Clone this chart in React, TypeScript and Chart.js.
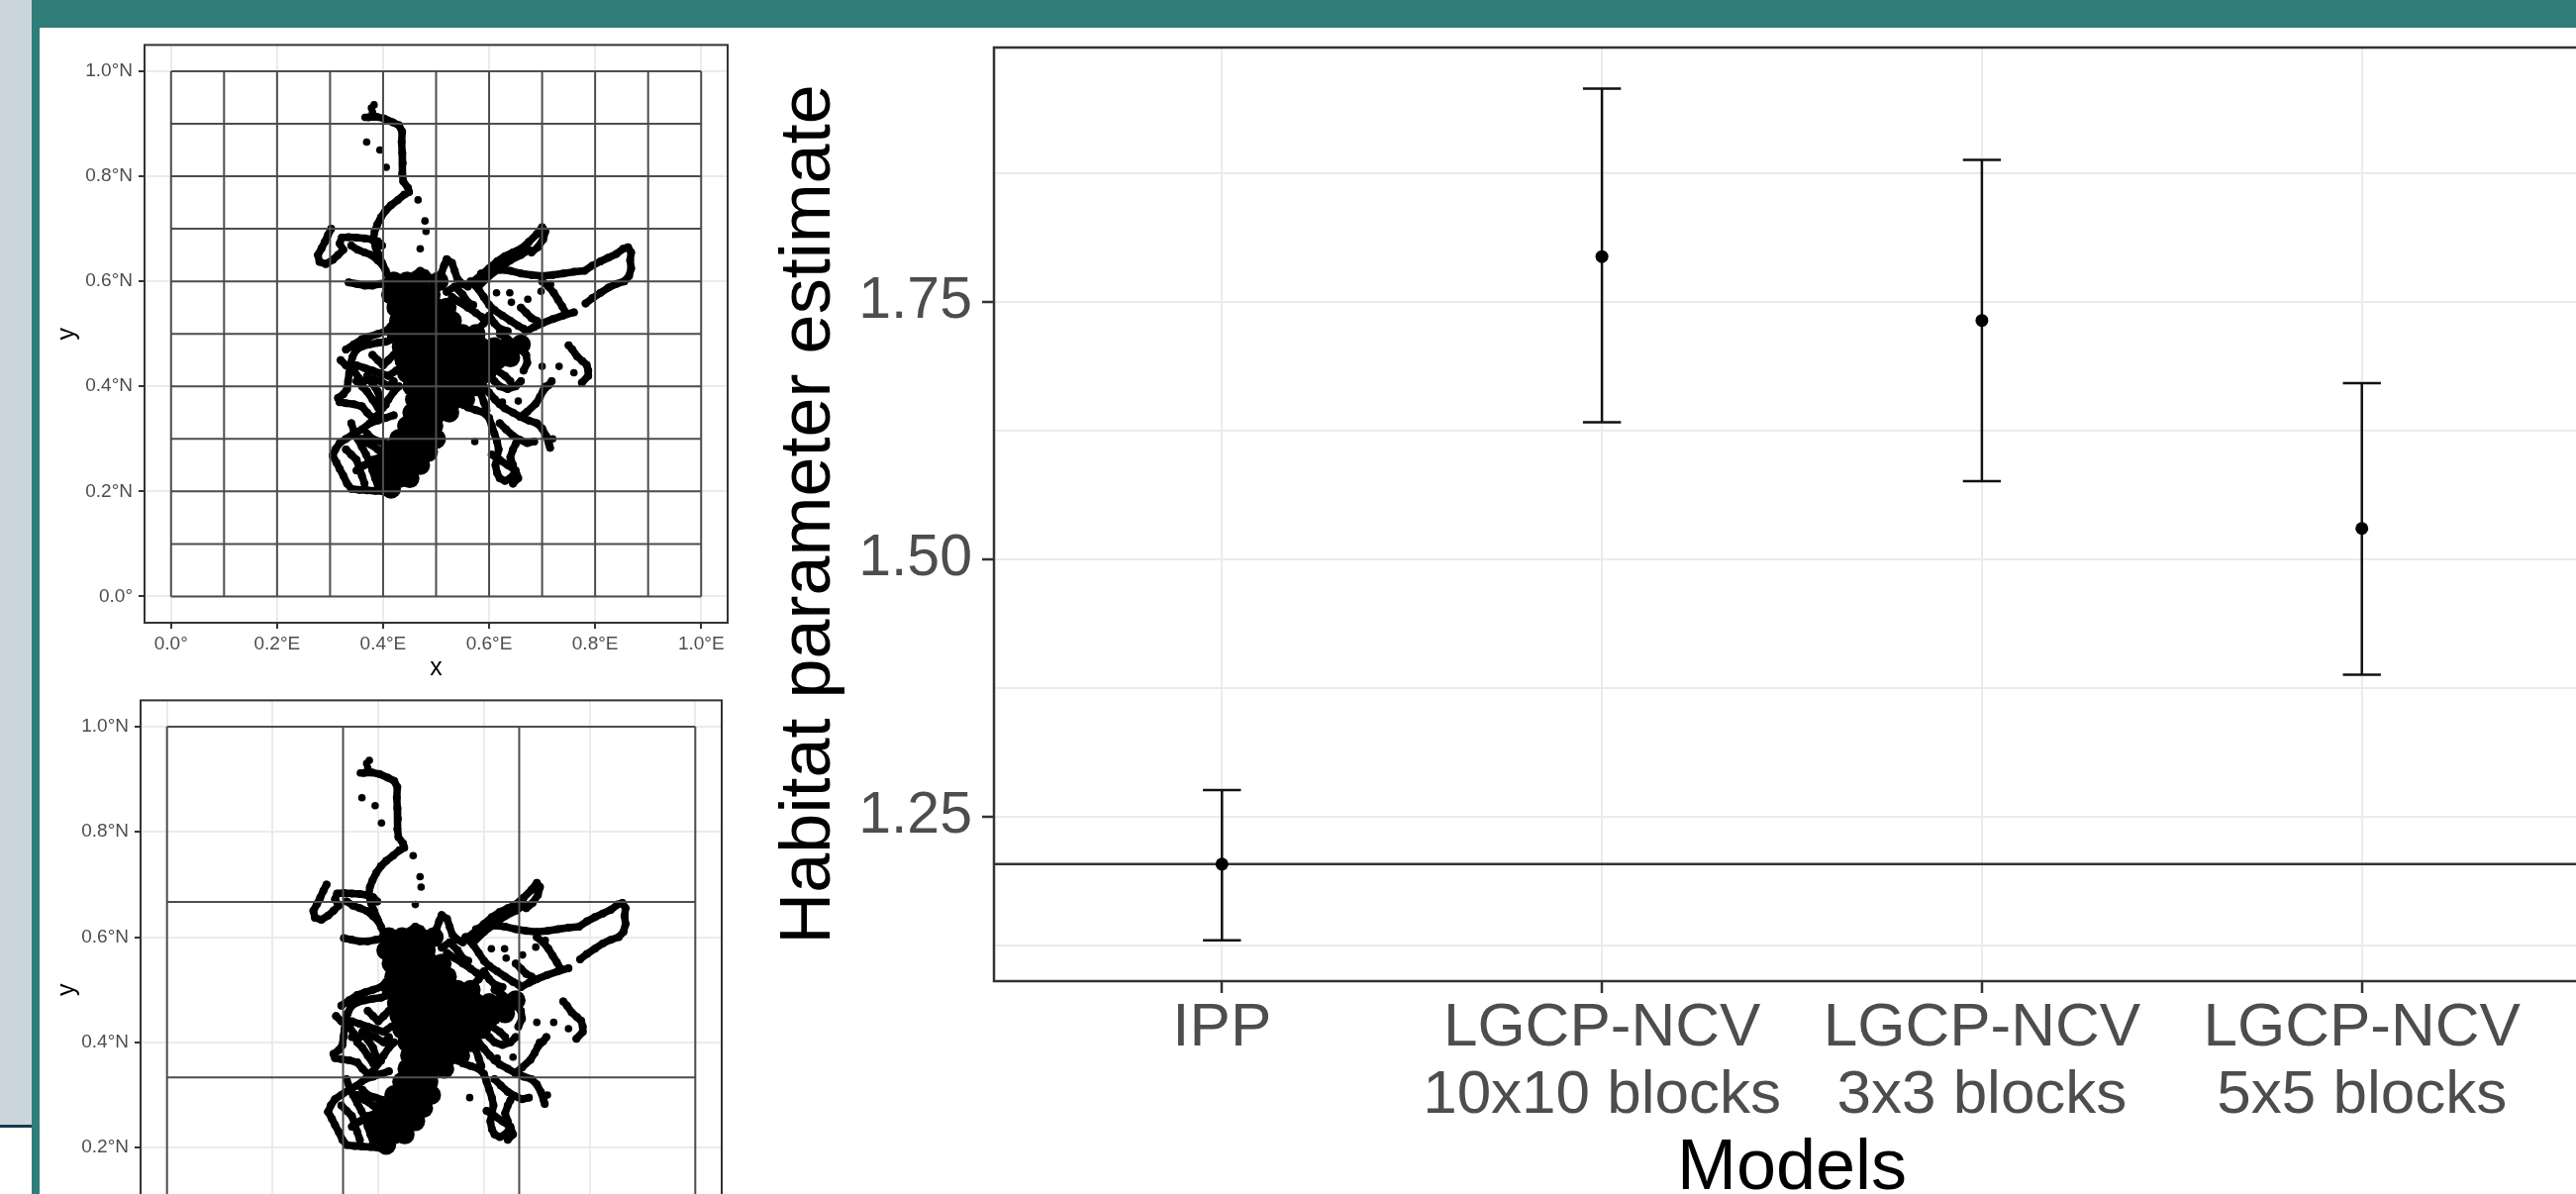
import React, { useEffect, useRef } from "react";
import { Chart, registerables } from "chart.js";

Chart.register(...registerables);

const FONT = "'Liberation Sans', Arial, Helvetica, sans-serif";

// ---------------- Right chart data ----------------
const modelLabels: string[][] = [
  ["IPP"],
  ["LGCP-NCV", "10x10 blocks"],
  ["LGCP-NCV", "3x3 blocks"],
  ["LGCP-NCV", "5x5 blocks"],
];
const estimates = [1.204, 1.794, 1.732, 1.53];
const lowerCI = [1.13, 1.633, 1.576, 1.388];
const upperCI = [1.276, 1.957, 1.888, 1.671];
const referenceValue = 1.204;
const yAxisRange = [1.0904, 1.997];
const yGridValues = [1.125, 1.25, 1.375, 1.5, 1.625, 1.75, 1.875];
const yLabelledValues = [1.25, 1.5, 1.75];
const xAxisRange = [-0.6, 3.6];

// ---------------- Map data ----------------
const mapBreaks = [0, 0.2, 0.4, 0.6, 0.8, 1.0];
const lonLabels = ["0.0°", "0.2°E", "0.4°E", "0.6°E", "0.8°E", "1.0°E"];
const latLabels = ["0.0°", "0.2°N", "0.4°N", "0.6°N", "0.8°N", "1.0°N"];
const mapRange = [-0.05, 1.05];
const blockEdges10 = [0, 0.1, 0.2, 0.3, 0.4, 0.5, 0.6, 0.7, 0.8, 0.9, 1.0];
const blockEdges3 = [0, 0.3333, 0.6667, 1.0];

// traced movement track (x, y)
const trackPaths: number[][][] = [
  [[0.372,0.912],[0.388,0.913],[0.402,0.910],[0.418,0.903],[0.430,0.897],[0.436,0.885],[0.435,0.865],[0.436,0.845],[0.437,0.825],[0.436,0.805],[0.438,0.790],[0.447,0.778],[0.449,0.770],[0.440,0.765],[0.428,0.755],[0.415,0.745],[0.405,0.735],[0.396,0.722],[0.389,0.708],[0.384,0.695],[0.382,0.680],[0.386,0.665],[0.392,0.650],[0.398,0.635],[0.405,0.620],[0.412,0.605]],
  [[0.302,0.700],[0.296,0.688],[0.290,0.675],[0.284,0.663],[0.277,0.650],[0.280,0.637],[0.292,0.633],[0.305,0.641],[0.315,0.650],[0.325,0.660],[0.318,0.672],[0.322,0.683],[0.335,0.684],[0.350,0.683],[0.365,0.682],[0.378,0.680],[0.390,0.676],[0.398,0.668]],
  [[0.335,0.598],[0.350,0.595],[0.365,0.592],[0.380,0.592],[0.395,0.595],[0.410,0.598]],
  [[0.340,0.668],[0.352,0.660],[0.365,0.655],[0.378,0.650],[0.390,0.640],[0.400,0.630]],
  [[0.570,0.600],[0.585,0.612],[0.600,0.625],[0.615,0.638],[0.630,0.648],[0.645,0.655],[0.660,0.662],[0.675,0.675],[0.690,0.690],[0.700,0.703],[0.706,0.695],[0.702,0.680],[0.692,0.665],[0.680,0.655]],
  [[0.580,0.590],[0.600,0.610],[0.620,0.625],[0.640,0.640],[0.660,0.650],[0.675,0.660]],
  [[0.585,0.615],[0.600,0.620],[0.620,0.622],[0.640,0.620],[0.660,0.615],[0.680,0.612],[0.700,0.610],[0.720,0.612],[0.740,0.615],[0.760,0.618],[0.780,0.620],[0.795,0.630],[0.810,0.638],[0.825,0.645],[0.840,0.652],[0.853,0.662],[0.862,0.665],[0.868,0.655],[0.866,0.640],[0.868,0.625],[0.864,0.610],[0.855,0.600],[0.840,0.595],[0.825,0.588],[0.810,0.578],[0.795,0.568],[0.782,0.558]],
  [[0.760,0.541],[0.740,0.535],[0.720,0.528],[0.700,0.520],[0.685,0.513],[0.670,0.505]],
  [[0.700,0.600],[0.712,0.590],[0.722,0.578],[0.730,0.565],[0.738,0.552],[0.745,0.540]],
  [[0.750,0.478],[0.757,0.470],[0.766,0.457],[0.776,0.448],[0.784,0.441],[0.787,0.430],[0.787,0.420],[0.775,0.407]],
  [[0.530,0.570],[0.545,0.560],[0.560,0.550],[0.575,0.540],[0.586,0.532],[0.600,0.528]],
  [[0.610,0.545],[0.625,0.535],[0.640,0.525],[0.655,0.515],[0.665,0.510]],
  [[0.565,0.600],[0.580,0.585],[0.590,0.570],[0.600,0.555],[0.610,0.545]],
  [[0.620,0.500],[0.635,0.490],[0.650,0.480],[0.660,0.470],[0.670,0.460],[0.672,0.445],[0.665,0.430]],
  [[0.600,0.440],[0.615,0.430],[0.630,0.420],[0.640,0.410]],
  [[0.450,0.600],[0.460,0.612],[0.470,0.620],[0.480,0.615],[0.490,0.605]],
  [[0.505,0.600],[0.510,0.615],[0.515,0.630],[0.520,0.642],[0.530,0.635],[0.535,0.620],[0.540,0.605],[0.550,0.595],[0.560,0.590]],
  [[0.420,0.490],[0.405,0.485],[0.390,0.483],[0.375,0.480],[0.360,0.476],[0.348,0.468],[0.342,0.455],[0.338,0.440],[0.336,0.425],[0.334,0.410],[0.332,0.395],[0.325,0.385],[0.315,0.378],[0.318,0.370],[0.330,0.368],[0.345,0.366],[0.360,0.362]],
  [[0.360,0.362],[0.370,0.350],[0.380,0.340],[0.390,0.345],[0.400,0.360],[0.410,0.375],[0.420,0.390],[0.430,0.400]],
  [[0.350,0.440],[0.365,0.435],[0.380,0.430],[0.395,0.425],[0.410,0.420],[0.425,0.430],[0.440,0.440]],
  [[0.370,0.420],[0.380,0.405],[0.390,0.390],[0.395,0.375],[0.405,0.365]],
  [[0.330,0.470],[0.345,0.480],[0.360,0.490],[0.375,0.495],[0.390,0.500],[0.405,0.505],[0.415,0.515]],
  [[0.320,0.450],[0.330,0.440],[0.345,0.430],[0.355,0.415],[0.360,0.400],[0.370,0.390],[0.380,0.375],[0.390,0.360]],
  [[0.350,0.410],[0.365,0.410],[0.380,0.415],[0.395,0.410],[0.410,0.400],[0.420,0.410]],
  [[0.380,0.460],[0.390,0.450],[0.400,0.440],[0.410,0.450],[0.420,0.460],[0.430,0.470]],
  [[0.305,0.268],[0.312,0.255],[0.318,0.243],[0.325,0.230],[0.332,0.215],[0.340,0.205],[0.355,0.203],[0.370,0.202],[0.385,0.201],[0.400,0.200],[0.415,0.203],[0.425,0.210]],
  [[0.305,0.268],[0.310,0.280],[0.318,0.292],[0.330,0.300],[0.345,0.310],[0.360,0.318],[0.375,0.330],[0.390,0.335],[0.405,0.340],[0.420,0.345]],
  [[0.340,0.330],[0.345,0.315],[0.352,0.300],[0.360,0.285],[0.368,0.270],[0.375,0.255],[0.380,0.240],[0.385,0.225],[0.390,0.212]],
  [[0.360,0.300],[0.375,0.290],[0.390,0.280],[0.400,0.270],[0.410,0.260]],
  [[0.330,0.280],[0.340,0.270],[0.350,0.260],[0.355,0.245],[0.360,0.230],[0.365,0.215]],
  [[0.350,0.240],[0.365,0.250],[0.380,0.260],[0.395,0.265],[0.410,0.270]],
  [[0.370,0.310],[0.380,0.300],[0.395,0.295],[0.410,0.290],[0.420,0.280]],
  [[0.390,0.235],[0.400,0.225],[0.410,0.215],[0.420,0.220],[0.430,0.230]],
  [[0.430,0.260],[0.440,0.245],[0.448,0.235],[0.455,0.245],[0.465,0.250],[0.470,0.265]],
  [[0.520,0.580],[0.535,0.590],[0.550,0.575],[0.560,0.560],[0.570,0.555]],
  [[0.580,0.510],[0.590,0.520],[0.600,0.535],[0.610,0.520],[0.620,0.510],[0.635,0.505]],
  [[0.660,0.550],[0.670,0.540],[0.680,0.530],[0.690,0.525]],
  [[0.570,0.410],[0.580,0.400],[0.585,0.385],[0.590,0.370],[0.595,0.355]],
  [[0.600,0.420],[0.610,0.410],[0.620,0.400],[0.635,0.395],[0.650,0.400],[0.660,0.410]],
  [[0.560,0.360],[0.575,0.355],[0.590,0.350],[0.600,0.340],[0.605,0.325],[0.610,0.310],[0.615,0.295],[0.618,0.280],[0.615,0.265],[0.612,0.250],[0.615,0.235],[0.620,0.225],[0.630,0.220],[0.640,0.225],[0.648,0.235],[0.645,0.250],[0.640,0.265],[0.645,0.280],[0.650,0.290]],
  [[0.605,0.270],[0.620,0.260],[0.635,0.250],[0.650,0.240],[0.655,0.225],[0.645,0.215]],
  [[0.590,0.400],[0.600,0.388],[0.611,0.375],[0.620,0.366],[0.630,0.358],[0.645,0.350],[0.659,0.342],[0.672,0.352],[0.688,0.367],[0.696,0.380],[0.702,0.392],[0.712,0.402],[0.718,0.410]],
  [[0.659,0.342],[0.675,0.335],[0.690,0.330],[0.700,0.320],[0.708,0.305],[0.713,0.290],[0.715,0.283]],
  [[0.620,0.330],[0.632,0.318],[0.645,0.306],[0.658,0.298],[0.672,0.292],[0.685,0.295]],
];

// dense core of fixes (x, y)
const coreFixes: number[][] = [
  [0.420,0.600],[0.445,0.600],[0.470,0.600],[0.505,0.600],
  [0.415,0.575],[0.440,0.575],[0.465,0.575],[0.490,0.575],
  [0.425,0.550],[0.450,0.550],[0.475,0.550],[0.500,0.550],[0.520,0.550],
  [0.430,0.525],[0.455,0.525],[0.480,0.525],[0.505,0.525],[0.530,0.525],
  [0.425,0.500],[0.450,0.500],[0.475,0.500],[0.500,0.500],[0.525,0.500],[0.550,0.500],[0.575,0.500],
  [0.435,0.475],[0.460,0.475],[0.485,0.475],[0.510,0.475],[0.535,0.475],[0.560,0.475],[0.585,0.475],[0.610,0.475],[0.635,0.475],[0.660,0.480],
  [0.440,0.450],[0.465,0.450],[0.490,0.450],[0.515,0.450],[0.540,0.450],[0.565,0.450],[0.590,0.450],[0.615,0.450],[0.640,0.455],
  [0.445,0.425],[0.470,0.425],[0.495,0.425],[0.520,0.425],[0.545,0.425],[0.570,0.425],[0.595,0.425],
  [0.455,0.400],[0.480,0.400],[0.505,0.400],[0.530,0.400],[0.555,0.400],[0.575,0.400],
  [0.460,0.375],[0.485,0.375],[0.510,0.375],[0.535,0.375],[0.555,0.375],
  [0.455,0.350],[0.480,0.350],[0.505,0.350],[0.525,0.350],
  [0.445,0.325],[0.470,0.325],[0.495,0.325],
  [0.430,0.300],[0.455,0.300],[0.480,0.300],[0.500,0.300],
  [0.410,0.275],[0.435,0.275],[0.460,0.275],[0.485,0.275],
  [0.400,0.250],[0.425,0.250],[0.450,0.250],[0.470,0.250],
  [0.405,0.225],[0.430,0.225],[0.450,0.225],
  [0.415,0.205],
];

// isolated fixes (x, y)
const looseFixes: number[][] = [
  [0.378,0.930],[0.383,0.936],[0.380,0.922],[0.366,0.912],
  [0.369,0.865],[0.394,0.850],[0.406,0.817],[0.466,0.755],[0.479,0.715],[0.481,0.695],[0.470,0.662],
  [0.614,0.578],[0.639,0.578],[0.642,0.560],[0.673,0.566],[0.698,0.581],[0.716,0.594],
  [0.700,0.438],[0.732,0.438],[0.760,0.426],
  [0.625,0.370],[0.655,0.372],[0.705,0.400],[0.720,0.300],[0.573,0.295],
];

// ---------------- helpers ----------------
const framePlugin = {
  id: "panelFrame",
  afterDraw(chart: any, _args: any, opts: any) {
    const { ctx, chartArea: a } = chart;
    ctx.save();
    ctx.strokeStyle = opts.color || "#333";
    ctx.lineWidth = opts.width || 2;
    ctx.strokeRect(a.left, a.top, a.right - a.left, a.bottom - a.top);
    ctx.restore();
  },
};

function pathsToLine(paths: number[][][]) {
  const out: any[] = [];
  paths.forEach((p) => {
    p.forEach(([x, y]) => out.push({ x, y }));
    out.push({ x: p[p.length - 1][0], y: null });
  });
  return out;
}

function blockLines(edges: number[]) {
  const lo = edges[0];
  const hi = edges[edges.length - 1];
  const segs: number[][][] = [];
  edges.forEach((e) => {
    segs.push([[e, lo], [e, hi]]);
    segs.push([[lo, e], [hi, e]]);
  });
  return pathsToLine(segs);
}

const TICK_GREY = "#4D4D4D";
const GRID = "#EBEBEB";

interface MapProps {
  left: number; top: number; width: number; height: number;
  padTop: number; padRight: number; yAxisWidth: number; xAxisHeight: number;
  edges: number[];
}

function MapPanel(p: MapProps) {
  const ref = useRef<HTMLCanvasElement>(null);
  useEffect(() => {
    const chart = new Chart(ref.current as HTMLCanvasElement, {
      type: "scatter",
      data: {
        datasets: [
          {
            type: "line",
            data: blockLines(p.edges),
            borderColor: "#4d4d4d",
            borderWidth: 2,
            pointRadius: 0,
            spanGaps: false,
            order: 0,
          } as any,
          {
            type: "line",
            data: pathsToLine(trackPaths),
            borderColor: "#000",
            borderWidth: 7.5,
            borderCapStyle: "round",
            borderJoinStyle: "round",
            pointRadius: 4,
            pointBackgroundColor: "#000",
            pointBorderWidth: 0,
            spanGaps: false,
            order: 1,
          } as any,
          {
            data: coreFixes.map(([x, y]) => ({ x, y })),
            pointRadius: 10,
            pointBackgroundColor: "#000",
            pointBorderWidth: 0,
            order: 2,
          },
          {
            data: looseFixes.map(([x, y]) => ({ x, y })),
            pointRadius: 3.8,
            pointBackgroundColor: "#000",
            pointBorderWidth: 0,
            order: 3,
          },
        ],
      },
      plugins: [framePlugin as any],
      options: {
        animation: false,
        responsive: false,
        maintainAspectRatio: false,
        devicePixelRatio: 1,
        events: [],
        layout: { padding: { top: p.padTop, right: p.padRight, left: 0, bottom: 0 }, autoPadding: false } as any,
        plugins: {
          legend: { display: false },
          tooltip: { enabled: false },
          panelFrame: { color: "#333", width: 2 },
        } as any,
        scales: {
          x: {
            type: "linear",
            min: mapRange[0],
            max: mapRange[1],
            afterBuildTicks: (s: any) => { s.ticks = mapBreaks.map((v) => ({ value: v })); },
            afterFit: (s: any) => { s.height = p.xAxisHeight; },
            ticks: {
              callback: (_v: any, i: number) => lonLabels[i],
              color: TICK_GREY,
              font: { family: FONT, size: 19 },
              padding: 4,
              autoSkip: false,
              maxRotation: 0,
            },
            grid: { color: GRID, lineWidth: 2, tickColor: "#333", tickLength: 6, tickWidth: 2 },
            border: { display: false },
            title: { display: true, text: "x", color: "#000", font: { family: FONT, size: 25 }, padding: { top: 0, bottom: 10 } },
          },
          y: {
            type: "linear",
            min: mapRange[0],
            max: mapRange[1],
            afterBuildTicks: (s: any) => { s.ticks = mapBreaks.map((v) => ({ value: v })); },
            afterFit: (s: any) => { s.width = p.yAxisWidth; },
            ticks: {
              callback: (_v: any, i: number) => latLabels[i],
              color: TICK_GREY,
              font: { family: FONT, size: 19 },
              padding: 6,
              autoSkip: false,
            },
            grid: { color: GRID, lineWidth: 2, tickColor: "#333", tickLength: 6, tickWidth: 2 },
            border: { display: false },
            title: { display: true, text: "y", color: "#000", font: { family: FONT, size: 25 }, padding: { top: 13, bottom: 0 } },
          },
        },
      },
    });
    return () => chart.destroy();
  }, []);
  return (
    <canvas
      ref={ref}
      width={p.width}
      height={p.height}
      style={{ position: "absolute", left: p.left, top: p.top, width: p.width, height: p.height }}
    />
  );
}

function EstimateChart() {
  const ref = useRef<HTMLCanvasElement>(null);
  useEffect(() => {
    const capHalf = 0.05;
    const whiskers: any[] = [];
    const caps: any[] = [];
    estimates.forEach((_e, i) => {
      whiskers.push({ x: i, y: lowerCI[i] }, { x: i, y: upperCI[i] }, { x: i, y: null });
      caps.push({ x: i - capHalf, y: upperCI[i] }, { x: i + capHalf, y: upperCI[i] }, { x: i, y: null });
      caps.push({ x: i - capHalf, y: lowerCI[i] }, { x: i + capHalf, y: lowerCI[i] }, { x: i, y: null });
    });
    const chart = new Chart(ref.current as HTMLCanvasElement, {
      type: "scatter",
      data: {
        datasets: [
          {
            data: estimates.map((y, i) => ({ x: i, y })),
            pointRadius: 6.5,
            pointBackgroundColor: "#000",
            pointBorderWidth: 0,
            order: 0,
          },
          { type: "line", data: caps, borderColor: "#111", borderWidth: 2.5, pointRadius: 0, spanGaps: false, order: 1 } as any,
          { type: "line", data: whiskers, borderColor: "#111", borderWidth: 2.5, pointRadius: 0, spanGaps: false, order: 2 } as any,
          {
            type: "line",
            data: [{ x: xAxisRange[0], y: referenceValue }, { x: xAxisRange[1], y: referenceValue }],
            borderColor: "#333",
            borderWidth: 2.5,
            pointRadius: 0,
            order: 3,
          } as any,
        ],
      },
      plugins: [framePlugin as any],
      options: {
        animation: false,
        responsive: false,
        maintainAspectRatio: false,
        devicePixelRatio: 1,
        events: [],
        layout: { padding: { top: 48, right: 44, left: 0, bottom: 0 }, autoPadding: false } as any,
        plugins: {
          legend: { display: false },
          tooltip: { enabled: false },
          panelFrame: { color: "#333", width: 2.5 },
        } as any,
        scales: {
          x: {
            type: "linear",
            min: xAxisRange[0],
            max: xAxisRange[1],
            afterBuildTicks: (s: any) => { s.ticks = modelLabels.map((_l, i) => ({ value: i })); },
            afterFit: (s: any) => { s.height = 269; },
            ticks: {
              callback: (_v: any, i: number) => modelLabels[i],
              color: TICK_GREY,
              font: { family: FONT, size: 62, lineHeight: 1.1 },
              padding: 2,
              autoSkip: false,
              maxRotation: 0,
            },
            grid: { color: GRID, lineWidth: 2, tickColor: "#333", tickLength: 12, tickWidth: 2.5 },
            border: { display: false },
            title: { display: true, text: "Models", color: "#000", font: { family: FONT, size: 72 }, padding: { top: 0, bottom: 36 } },
          },
          y: {
            type: "linear",
            min: yAxisRange[0],
            max: yAxisRange[1],
            afterBuildTicks: (s: any) => { s.ticks = yGridValues.map((v) => ({ value: v })); },
            afterFit: (s: any) => { s.width = 244; },
            ticks: {
              callback: (v: any) => (yLabelledValues.some((m) => Math.abs(m - v) < 1e-9) ? Number(v).toFixed(2) : ""),
              color: TICK_GREY,
              font: { family: FONT, size: 59 },
              padding: 10,
              autoSkip: false,
            },
            grid: {
              color: GRID,
              lineWidth: 2,
              tickColor: (c: any) =>
                c.tick && yLabelledValues.some((m) => Math.abs(m - c.tick.value) < 1e-9) ? "#333" : "rgba(0,0,0,0)",
              tickLength: 12,
              tickWidth: 2.5,
            },
            border: { display: false },
            title: {
              display: true,
              text: "Habitat parameter estimate",
              color: "#000",
              font: { family: FONT, size: 72 },
              padding: { top: 15, bottom: 0 },
            },
          },
        },
      },
    });
    return () => chart.destroy();
  }, []);
  return (
    <canvas
      ref={ref}
      width={1900}
      height={1260}
      style={{ position: "absolute", left: 760, top: 0, width: 1900, height: 1260 }}
    />
  );
}

export default function App() {
  return (
    <div
      style={{
        position: "absolute",
        left: 0,
        top: 0,
        width: 2602,
        height: 1206,
        overflow: "hidden",
        background: "#ffffff",
        fontFamily: FONT,
      }}
    >
      <div style={{ position: "absolute", left: 0, top: 0, width: 32, height: 1136, background: "#CAD6DC", borderBottom: "3px solid #1B3A4B" }} />
      <div style={{ position: "absolute", left: 32, top: 0, width: 2570, height: 28, background: "#2F7E79" }} />
      <div style={{ position: "absolute", left: 32, top: 0, width: 8, height: 1206, background: "#2F7E79" }} />
      <MapPanel left={40} top={28} width={720} height={672} padTop={12} padRight={25} yAxisWidth={106} xAxisHeight={71} edges={blockEdges10} />
      <MapPanel left={40} top={690} width={720} height={660} padTop={16} padRight={31} yAxisWidth={102} xAxisHeight={58} edges={blockEdges3} />
      <EstimateChart />
    </div>
  );
}
